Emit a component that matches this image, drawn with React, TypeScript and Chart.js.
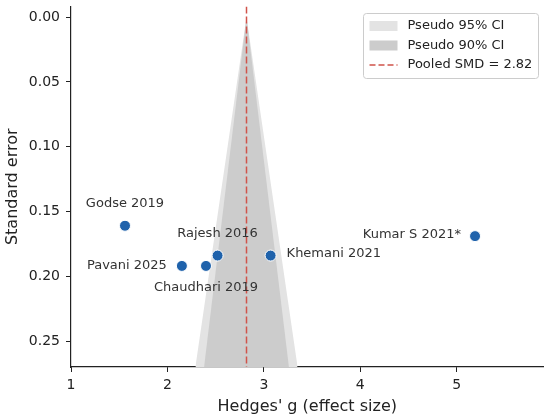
import { useEffect, useRef } from "react"
import Chart from "chart.js/auto"

// studies (Hedges' g vs standard error)
const studies = ["Godse 2019", "Rajesh 2016", "Pavani 2025", "Chaudhari 2019", "Khemani 2021", "Kumar S 2021*"]
const effect = [1.56, 2.52, 2.15, 2.4, 3.07, 5.19]
const stdErr = [0.161, 0.184, 0.192, 0.192, 0.184, 0.169]

const pooled = 2.82
// funnel outlines: apex at SE 0, base at SE 0.27
const funnelSE = [0.27, 0, 0.27]
const funnel95 = [2.29, 2.82, 3.35]
const funnel90 = [2.38, 2.82, 3.26]

const xTicks = [1, 2, 3, 4, 5]
const yTicks = [0, 0.05, 0.1, 0.15, 0.2, 0.25]

const FONT = "'DejaVu Sans', sans-serif"

// where each study label sits around its dot
const placement: Record<string, { align: CanvasTextAlign; dx: number; dy: number }> = {
    "Godse 2019": { align: "center", dx: 0, dy: -22 },
    "Rajesh 2016": { align: "center", dx: 0, dy: -22 },
    "Pavani 2025": { align: "right", dx: -15, dy: 0 },
    "Chaudhari 2019": { align: "center", dx: 0, dy: 22 },
    "Khemani 2021": { align: "left", dx: 16, dy: -2 },
    "Kumar S 2021*": { align: "right", dx: -14, dy: -1 },
}

const labelPlugin = {
    id: "studyLabels",
    afterDatasetsDraw(chart: any) {
        const meta = chart.getDatasetMeta(0)
        const ctx = chart.ctx
        ctx.save()
        ctx.font = `13px ${FONT}`
        ctx.fillStyle = "#333333"
        ctx.textBaseline = "middle"
        meta.data.forEach((pt: any, i: number) => {
            const p = placement[studies[i]]
            ctx.textAlign = p.align
            ctx.fillText(studies[i], pt.x + p.dx, pt.y + p.dy)
        })
        ctx.restore()
    },
}

const legendPlugin = {
    id: "boxLegend",
    afterDraw(chart: any) {
        const { ctx, chartArea } = chart
        const w = 175
        const h = 65
        const x = chartArea.right - 7 - w + 2
        const y = chartArea.top + 7
        ctx.save()
        ctx.beginPath()
        ctx.roundRect(x, y, w, h, 3)
        ctx.fillStyle = "rgba(255,255,255,0.8)"
        ctx.fill()
        ctx.strokeStyle = "#cccccc"
        ctx.lineWidth = 1
        ctx.stroke()

        const rows = [
            { text: "Pseudo 95% CI", kind: "patch", color: "#e3e3e3" },
            { text: "Pseudo 90% CI", kind: "patch", color: "#cccccc" },
            { text: "Pooled SMD = 2.82", kind: "line", color: "#d0534a" },
        ]
        ctx.font = `13px ${FONT}`
        ctx.textBaseline = "middle"
        ctx.textAlign = "left"
        rows.forEach((r, i) => {
            const cy = y + 12.5 + i * 19.5
            if (r.kind === "patch") {
                ctx.fillStyle = r.color
                ctx.fillRect(x + 6, cy - 5, 28, 10)
            } else {
                ctx.strokeStyle = r.color
                ctx.lineWidth = 1.5
                ctx.setLineDash([6, 3])
                ctx.beginPath()
                ctx.moveTo(x + 6, cy)
                ctx.lineTo(x + 34, cy)
                ctx.stroke()
                ctx.setLineDash([])
            }
            ctx.fillStyle = "#222222"
            ctx.fillText(r.text, x + 44, cy)
        })
        ctx.restore()
    },
}

export default function App() {
    const chartRef = useRef<HTMLCanvasElement>(null)
    const chartInstance = useRef<Chart | null>(null)

    useEffect(() => {
        document.body.style.margin = "0"
        if (!chartRef.current) return
        if (chartInstance.current) chartInstance.current.destroy()

        chartInstance.current = new Chart(chartRef.current, {
            type: "scatter",
            data: {
                datasets: [
                    {
                        label: "Studies",
                        data: effect.map((g, i) => ({ x: g, y: stdErr[i] })),
                        backgroundColor: "#1f62ab",
                        borderColor: "#ffffff",
                        borderWidth: 1,
                        pointRadius: 5.5,
                        order: 0,
                    },
                    {
                        label: "Pooled SMD = 2.82",
                        data: [
                            { x: pooled, y: -0.0082 },
                            { x: pooled, y: 0.27 },
                        ],
                        showLine: true,
                        borderColor: "#d0534a",
                        borderWidth: 1.5,
                        borderDash: [7, 3],
                        pointRadius: 0,
                        order: 1,
                    },
                    {
                        label: "Pseudo 90% CI",
                        data: funnel90.map((g, i) => ({ x: g, y: funnelSE[i] })),
                        showLine: true,
                        borderWidth: 0,
                        pointRadius: 0,
                        backgroundColor: "#cccccc",
                        fill: { value: 0.27 },
                        order: 2,
                    },
                    {
                        label: "Pseudo 95% CI",
                        data: funnel95.map((g, i) => ({ x: g, y: funnelSE[i] })),
                        showLine: true,
                        borderWidth: 0,
                        pointRadius: 0,
                        backgroundColor: "#e3e3e3",
                        fill: { value: 0.27 },
                        order: 3,
                    },
                ],
            },
            options: {
                responsive: false,
                animation: false,
                layout: { padding: { top: 5, right: 5, left: 0, bottom: 0 } },
                plugins: { legend: { display: false }, tooltip: { enabled: false } },
                scales: {
                    x: {
                        type: "linear",
                        min: 1,
                        max: 5.9,
                        afterBuildTicks: (s: any) => {
                            s.ticks = xTicks.map((v) => ({ value: v }))
                        },
                        afterFit: (s: any) => {
                            s.height = 52
                            s.paddingLeft = 0
                            s.paddingRight = 0
                        },
                        grid: { drawOnChartArea: false, drawTicks: true, tickLength: 5, color: "#222" },
                        border: { display: true, color: "#222", width: 1.2 },
                        ticks: {
                            font: { family: FONT, size: 14 },
                            color: "#222",
                            padding: 5,
                            maxRotation: 0,
                            callback: (v: any) => String(v),
                        },
                        title: {
                            display: true,
                            text: "Hedges' g (effect size)",
                            font: { family: FONT, size: 16 },
                            color: "#222",
                            padding: { top: 0, bottom: 3 },
                        },
                    },
                    y: {
                        type: "linear",
                        reverse: true,
                        min: -0.0082,
                        max: 0.27,
                        afterBuildTicks: (s: any) => {
                            s.ticks = yTicks.map((v) => ({ value: v }))
                        },
                        afterFit: (s: any) => {
                            s.width = 71
                            s.paddingTop = 0
                            s.paddingBottom = 0
                        },
                        grid: { drawOnChartArea: false, drawTicks: true, tickLength: 5, color: "#222" },
                        border: { display: true, color: "#222", width: 1.2 },
                        ticks: {
                            font: { family: FONT, size: 14 },
                            color: "#222",
                            padding: 6,
                            callback: (v: any) => Number(v).toFixed(2),
                        },
                        title: {
                            display: true,
                            text: "Standard error",
                            font: { family: FONT, size: 16 },
                            color: "#222",
                            padding: { top: 3, bottom: 0 },
                        },
                    },
                },
            },
            plugins: [labelPlugin, legendPlugin],
        })

        return () => {
            chartInstance.current?.destroy()
        }
    }, [])

    return (
        <div style={{ position: "absolute", left: 0, top: 0, width: 550, height: 419, background: "#fff" }}>
            <canvas ref={chartRef} width={550} height={419}></canvas>
        </div>
    )
}
